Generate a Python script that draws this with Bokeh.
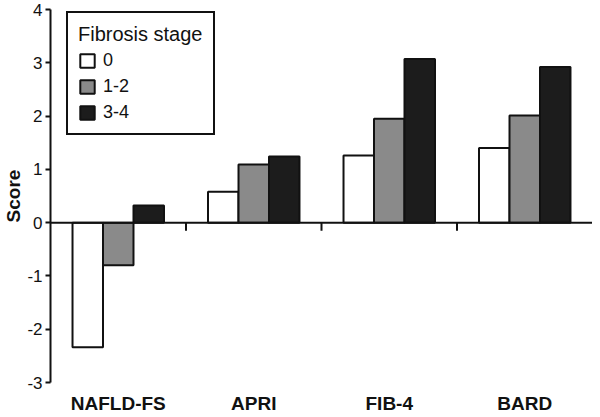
from bokeh.plotting import figure
from bokeh.models import Range1d, FixedTicker, Span, Legend, LegendItem
from bokeh.embed import file_html
from bokeh.resources import INLINE

categories = ["NAFLD-FS", "APRI", "FIB-4", "BARD"]
stages = ["0", "1-2", "3-4"]
stage0 = [-2.34, 0.58, 1.26, 1.40]
stage12 = [-0.80, 1.09, 1.95, 2.01]
stage34 = [0.32, 1.24, 3.07, 2.92]
y_ticks = [-3, -2, -1, 0, 1, 2, 3, 4]
y_tick_labels = ["-3", "-2", "-1", "0", "1", "2", "3", "4"]

series = [stage0, stage12, stage34]
colors = ["#ffffff", "#8a8a8a", "#1c1c1c"]
bar_w = 0.225

p = figure(width=592, height=416, output_backend="svg", toolbar_location=None,
           x_range=Range1d(0, len(categories)), y_range=Range1d(-3, 4),
           min_border_left=0, min_border_right=0, min_border_top=9, min_border_bottom=0)
p.outline_line_color = None
p.xgrid.visible = False
p.ygrid.visible = False
p.background_fill_color = "white"

renderers = []
centers = [i + 0.5 for i in range(len(categories))]
for j, (vals, col) in enumerate(zip(series, colors)):
    xs = [c + (j - 1) * bar_w for c in centers]
    r = p.vbar(x=xs, top=vals, bottom=0, width=bar_w, fill_color=col,
               line_color="#111111", line_width=2)
    renderers.append(r)

# zero line
p.add_layout(Span(location=0, dimension="width", line_color="#111111", line_width=2))
# group separator ticks below zero line
bounds = list(range(1, len(categories)))
p.segment(x0=bounds, y0=[0] * len(bounds), x1=bounds, y1=[-0.15] * len(bounds),
          line_color="#111111", line_width=2)

# y axis
ya = p.yaxis[0]
ya.ticker = FixedTicker(ticks=y_ticks)
ya.major_label_overrides = {t: s for t, s in zip(y_ticks, y_tick_labels)}
ya.axis_label = "Score"
ya.axis_label_text_font = "Liberation Sans"
ya.axis_label_text_font_style = "bold"
ya.axis_label_text_font_size = "19px"
ya.axis_label_text_color = "#111111"
ya.axis_label_standoff = 0
ya.major_label_text_font = "Liberation Sans"
ya.major_label_text_font_size = "17px"
ya.major_label_text_color = "#111111"
ya.axis_line_color = "#111111"
ya.axis_line_width = 2
ya.major_tick_line_color = "#111111"
ya.major_tick_line_width = 2
ya.major_tick_out = 5
ya.major_tick_in = 0
ya.minor_tick_line_color = None
ya.major_label_standoff = 3

# x axis (labels only)
xa = p.xaxis[0]
xa.ticker = FixedTicker(ticks=centers)
xa.major_label_overrides = {c: name for c, name in zip(centers, categories)}
xa.axis_line_color = None
xa.major_tick_line_color = None
xa.minor_tick_line_color = None
xa.major_tick_out = 0
xa.major_tick_in = 0
xa.major_label_standoff = 10
xa.major_label_text_font = "Liberation Sans"
xa.major_label_text_font_style = "bold"
xa.major_label_text_font_size = "19px"
xa.major_label_text_color = "#111111"

legend = Legend(items=[LegendItem(label=s, renderers=[r]) for s, r in zip(stages, renderers)],
                title="Fibrosis stage", location=(16, 247))
legend.title_text_font = "Liberation Sans"
legend.title_text_font_size = "20px"
legend.title_text_font_style = "normal"
legend.title_text_color = "#111111"
legend.label_text_font = "Liberation Sans"
legend.label_text_font_size = "18px"
legend.label_text_color = "#111111"
legend.glyph_width = 18
legend.glyph_height = 17
legend.label_height = 17
legend.spacing = 5
legend.padding = 10
legend.label_standoff = 7
legend.border_line_color = "#111111"
legend.border_line_width = 2
legend.border_line_alpha = 1.0
legend.background_fill_alpha = 1
legend.title_standoff = 4
p.add_layout(legend, "center")

open("out.html", "w").write(file_html(p, INLINE))
